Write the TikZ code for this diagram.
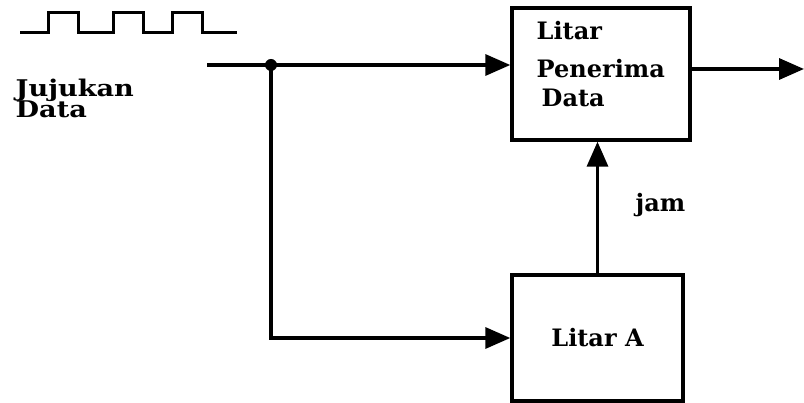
\documentclass[tikz,border=0pt]{standalone}
\usepackage{fontspec}
\setmainfont{DejaVu Serif}
\newfontfamily\widefont[FakeStretch=1.18]{DejaVu Serif}
\usetikzlibrary{arrows.meta}
\begin{document}
\begin{tikzpicture}[x=1pt,y=-1pt,
  line width=3.4pt,
  lbl/.style={font=\bfseries\fontsize{24}{30}\selectfont, inner sep=0pt},
  side/.style={font=\widefont\bfseries\fontsize{23}{24}\selectfont, inner sep=0pt},
  blk/.style={draw, line width=3.4pt, inner sep=0pt},
  arr/.style={-{Triangle[length=25pt,width=21pt]}},
  ]
\useasboundingbox (0,0) rectangle (804,403);
% square wave
\draw[line cap=butt, line width=3pt] (20,33) -- (48,33) -- (48,13) -- (78,13) -- (78,33) -- (113,33) -- (113,13) -- (143,13) -- (143,33) -- (172,33) -- (172,13) -- (202,13) -- (202,33) -- (237,33);
% blocks
\node[blk, minimum width=178pt, minimum height=132pt] (pen) at (601,74) {};
\node[lbl, anchor=base west] (pent1) at (535,40) {Litar};
\node[lbl, anchor=base west] (pent2) at (535,78) {Penerima};
\node[lbl, anchor=base west] (pent3) at (540,107) {Data};
\node[blk, minimum width=171pt, minimum height=126pt, lbl] (la) at (597.5,338) {Litar A};
% labels
\node[side, anchor=base west] (jj) at (14,97) {Jujukan};
\node[side, anchor=base west] (dd) at (14,118) {Data};
\node[lbl, anchor=base west] (jam) at (634,212) {jam};
% connectors
\coordinate (in) at (207,65);
\coordinate (j) at (271,65);
\coordinate (out) at (804,69);
\draw[arr] (in) -- (in -| pen.west);
\fill (j) circle (6pt);
\draw[arr] (j) -- (j |- la.west) -- (la.west);
\draw[arr] (out -| pen.east) -- (out);
\draw[arr] (la.north) -- (la.north |- pen.south);
\end{tikzpicture}
\end{document}
